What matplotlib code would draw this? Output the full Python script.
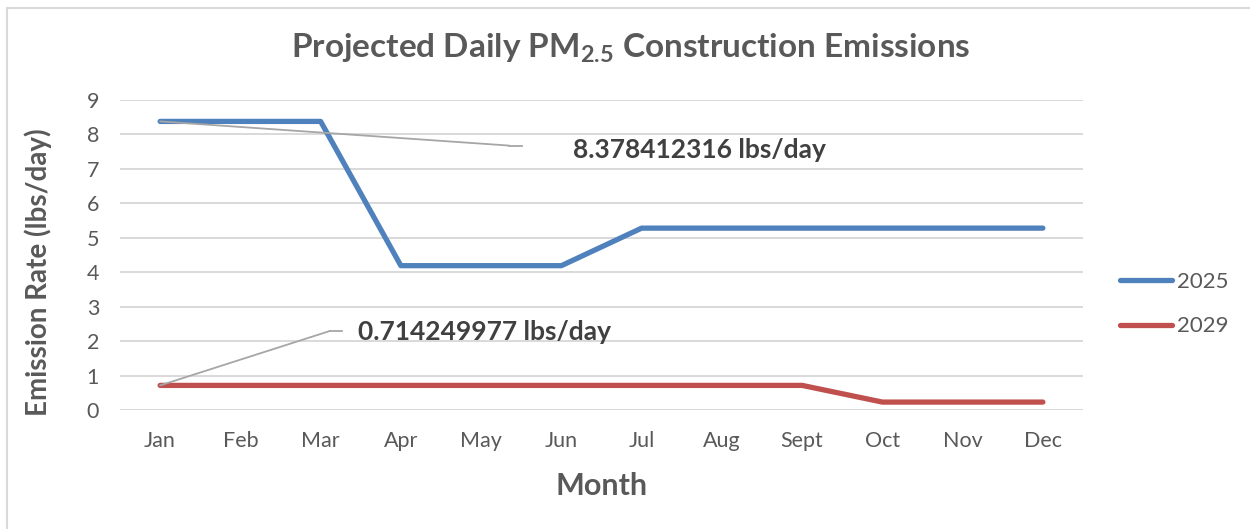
import matplotlib
matplotlib.use("Agg")
import matplotlib.pyplot as plt
from matplotlib.patches import Rectangle

# Data
months = ["Jan", "Feb", "Mar", "Apr", "May", "Jun", "Jul", "Aug", "Sept", "Oct", "Nov", "Dec"]
emis_2025 = [8.378412316, 8.378412316, 8.378412316, 4.19, 4.19, 4.19,
             5.28, 5.28, 5.28, 5.28, 5.28, 5.28]
emis_2029 = [0.714249977, 0.714249977, 0.714249977, 0.714249977, 0.714249977, 0.714249977,
             0.714249977, 0.714249977, 0.714249977, 0.23, 0.23, 0.23]
series_names = ["2025", "2029"]
y_ticks = [0, 1, 2, 3, 4, 5, 6, 7, 8, 9]

plt.rcParams["font.family"] = ["Lato", "DejaVu Sans"]
plt.rcParams["mathtext.fontset"] = "custom"
plt.rcParams["mathtext.rm"] = "Lato"
plt.rcParams["mathtext.bf"] = "Lato:bold"

TXT = "#595959"
GRID = "#D9D9D9"
BLUE = "#4F81BD"
RED = "#C0504D"
LEADER = "#A6A6A6"

fig = plt.figure(figsize=(12.5, 5.29), dpi=100)
W, H = 1250, 529
ax = fig.add_axes([120 / W, 1 - 410 / H, (1083 - 120) / W, (410 - 100) / H])

x = list(range(len(months)))
ax.plot(x, emis_2025, color=BLUE, lw=3.8, solid_capstyle="round", solid_joinstyle="round",
        label=series_names[0], zorder=3)
ax.plot(x, emis_2029, color=RED, lw=3.8, solid_capstyle="round", solid_joinstyle="round",
        label=series_names[1], zorder=3)

ax.set_xlim(-0.5, len(months) - 0.5)
ax.set_ylim(0, 9)
ax.set_yticks(y_ticks)
ax.set_xticks(x)
ax.set_xticklabels(months)
ax.tick_params(axis="both", length=0, labelsize=15.5, labelcolor=TXT)
ax.tick_params(axis="x", pad=15)
ax.tick_params(axis="y", pad=15)
ax.grid(axis="y", color=GRID, lw=1.4)
ax.set_axisbelow(True)
for s in ax.spines.values():
    s.set_visible(False)

ax.set_ylabel("Emission Rate (lbs/day)", fontsize=20, fontweight="bold", color=TXT)
ax.yaxis.set_label_coords(-0.0705, 0.445)
ax.set_xlabel("Month", fontsize=22, fontweight="bold", color=TXT)
ax.xaxis.set_label_coords(0.5, -0.2)

# 2025 January value label with leader line
v1 = emis_2025[0]
ax.annotate("", xy=(0, v1), xycoords="data", xytext=(0.404, 0.853), textcoords="axes fraction",
            arrowprops=dict(arrowstyle="-", color=LEADER, lw=1.3, shrinkA=0, shrinkB=0))
ax.plot([0.404, 0.4175], [0.853, 0.853], transform=ax.transAxes, color=LEADER, lw=1.3)
ax.text(0.4704, 0.839, f"{v1:.9f} lbs/day", transform=ax.transAxes, fontsize=19,
        fontweight="bold", color="#404040", va="center", ha="left")

# 2029 January value label with leader line
v2 = emis_2029[0]
ax.annotate("", xy=(0, v2), xycoords="data", xytext=(0.218, 0.255), textcoords="axes fraction",
            arrowprops=dict(arrowstyle="-", color=LEADER, lw=1.3, shrinkA=0, shrinkB=0))
ax.plot([0.218, 0.2305], [0.255, 0.255], transform=ax.transAxes, color=LEADER, lw=1.3)
ax.text(0.247, 0.2516, f"{v2:.9f} lbs/day", transform=ax.transAxes, fontsize=19,
        fontweight="bold", color="#404040", va="center", ha="left")

# Title
fig.text(631 / W, 1 - 48 / H, r"Projected Daily PM$_{\mathbf{2.5}}$ Construction Emissions",
         fontsize=24, fontweight="bold", color=TXT, ha="center", va="center")

# Legend
leg = fig.legend(loc="center left", bbox_to_anchor=(1111 / W, 1 - 304 / H), frameon=False,
                 fontsize=16, handlelength=2.35, handletextpad=0.2, labelspacing=1.12,
                 borderaxespad=0)
for t in leg.get_texts():
    t.set_color(TXT)

# Chart area border
fig.patches.append(Rectangle((7 / W, -0.1), 1.1, 1.1 - 8 / H, transform=fig.transFigure,
                             fill=False, edgecolor=GRID, lw=1.5))

fig.savefig("out.png", dpi=100, facecolor="white")
